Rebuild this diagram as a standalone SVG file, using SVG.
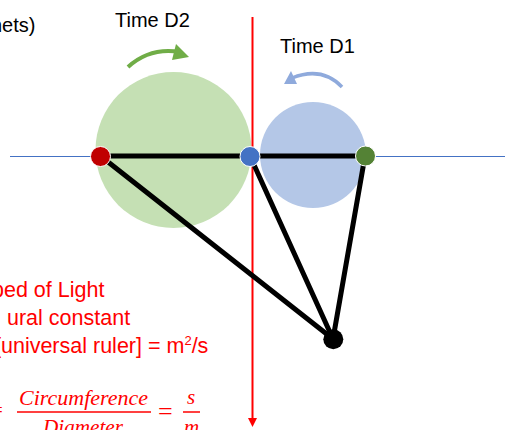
<svg xmlns="http://www.w3.org/2000/svg" width="505" height="430" viewBox="0 0 505 430">
<style>
.lbl{font-family:"Liberation Sans",Arial,sans-serif;font-size:20px;fill:#000}
.red{font-family:"Liberation Sans",Arial,sans-serif;font-size:21.5px;fill:#ff0000}
.math{font-family:"Liberation Serif","Times New Roman",serif;font-style:italic;font-size:21px;fill:#ff0000}
.edge{stroke:#000;stroke-width:5;stroke-linecap:round;fill:none}
.dot{stroke:#fff;stroke-width:1}
</style>
<defs>
<marker id="redArrow" markerWidth="9" markerHeight="9" refX="1" refY="4.5" orient="auto" markerUnits="userSpaceOnUse" viewBox="0 0 9 9">
<path d="M0,0 L9,4.5 L0,9 Z" fill="#ff0000"/>
</marker>
</defs>
<rect width="505" height="430" fill="#fff"/>
<g id="circleD2"><circle cx="173.5" cy="150" r="78" fill="#c5e0b4"/></g>
<g id="circleD1"><circle cx="313" cy="155" r="53" fill="#b4c7e7"/></g>
<g id="axis"><line x1="10" y1="156.5" x2="505" y2="156.5" stroke="#4472c4" stroke-width="1"/></g>
<g id="redLine"><line x1="252.5" y1="17" x2="252.5" y2="419" stroke="#ff0000" stroke-width="2" marker-end="url(#redArrow)"/></g>
<g id="arrows">
<path d="M128,67 Q150,47 180,52" stroke="#70ad47" stroke-width="4" fill="none"/>
<path d="M176,44 L189,57 L172,60 Z" fill="#70ad47"/>
<path d="M342,87 Q322,66 292,78" stroke="#8faadc" stroke-width="3.5" fill="none"/>
<path d="M284,84 L291,71 L297,84 Z" fill="#8faadc"/>
</g>
<g id="connectors">
<line class="edge" x1="100.5" y1="156" x2="250" y2="156"/>
<line class="edge" x1="250" y1="156" x2="365" y2="156"/>
<line class="edge" x1="100.5" y1="156" x2="333" y2="339"/>
<line class="edge" x1="250" y1="156" x2="333" y2="339"/>
<line class="edge" x1="365" y1="156" x2="333" y2="339"/>
</g>
<g id="nodeRed"><circle class="dot" cx="100.5" cy="156.5" r="10" fill="#c00000"/></g>
<g id="nodeBlue"><circle class="dot" cx="250" cy="156.5" r="10" fill="#4472c4"/></g>
<g id="nodeGreen"><circle class="dot" cx="365.5" cy="156" r="10" fill="#548235"/></g>
<g id="nodeBlack"><circle cx="333.3" cy="339.3" r="10" fill="#000"/></g>
<g id="labels">
<text class="lbl" x="-9" y="32">nets)</text>
<text class="lbl" x="115" y="27">Time D2</text>
<text class="lbl" x="280" y="53">Time D1</text>
</g>
<g id="redText">
<text class="red" x="-8" y="297">ped of Light</text>
<text class="red" x="7" y="325">ural constant</text>
<text class="red" x="-5" y="353">[universal ruler] = m<tspan font-size="13" dy="-8">2</tspan><tspan dy="8">/s</tspan></text>
</g>
<g id="formula">
<text class="math" x="-9" y="417" style="font-style:normal">=</text>
<text class="math" x="19" y="405" textLength="129" lengthAdjust="spacingAndGlyphs">Circumference</text>
<line x1="17" y1="412" x2="151" y2="412" stroke="#ff0000" stroke-width="1.5"/>
<text class="math" x="43" y="434" textLength="80" lengthAdjust="spacingAndGlyphs">Diameter</text>
<text x="158" y="420" font-family="Liberation Serif, serif" font-size="26" fill="#ff0000">=</text>
<text class="math" x="187" y="404">s</text>
<line x1="183" y1="412" x2="200" y2="412" stroke="#ff0000" stroke-width="1.5"/>
<text class="math" x="184" y="434">m</text>
</g>
</svg>
